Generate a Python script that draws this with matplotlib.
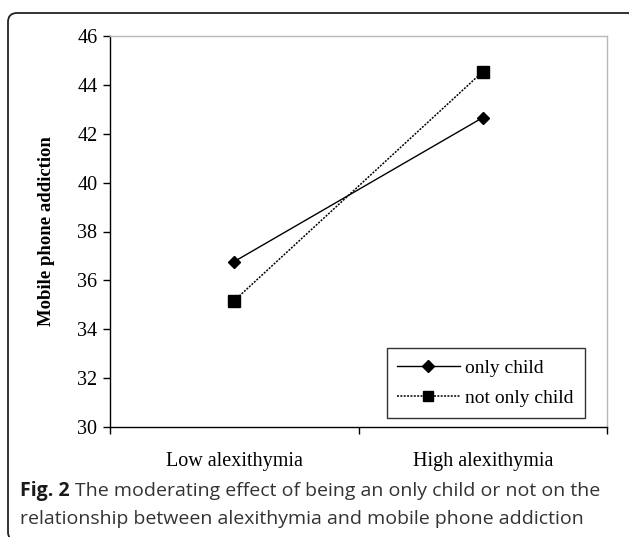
import matplotlib
matplotlib.use("Agg")
import matplotlib.pyplot as plt
from matplotlib.patches import FancyBboxPatch
from matplotlib.transforms import IdentityTransform
from matplotlib.ticker import FixedLocator, NullFormatter

categories = ["Low alexithymia", "High alexithymia"]
only_child = [36.77, 42.66]
not_only_child = [35.17, 44.54]
series_names = ["only child", "not only child"]
y_ticks = [30, 32, 34, 36, 38, 40, 42, 44, 46]

W, H, DPI = 629, 537, 100
fig = plt.figure(figsize=(W / DPI, H / DPI), dpi=DPI)
fig.patch.set_facecolor("white")

serif = "Liberation Serif"

ax = fig.add_axes([110 / W, 1 - 427 / H, (607 - 110) / W, (427 - 36) / H])
xpos = [0.5, 1.5]
ax.plot(xpos, only_child, color="black", lw=1.0, marker="D", markersize=6.5,
        label=series_names[0])
ax.plot(xpos, not_only_child, color="black", lw=1.1, ls=(0, (1.3, 0.9)), marker="s",
        markersize=8, label=series_names[1])

ax.set_xlim(0, 2)
ax.set_ylim(30, 46)
ax.set_yticks(y_ticks)
ax.set_yticklabels([str(v) for v in y_ticks], fontfamily=serif, fontsize=14.5)
ax.xaxis.set_major_locator(FixedLocator([0, 1, 2]))
ax.xaxis.set_major_formatter(NullFormatter())
ax.xaxis.set_minor_locator(FixedLocator(xpos))
ax.set_xticklabels(categories, minor=True, fontfamily=serif, fontsize=14.5)
ax.tick_params(axis="x", which="minor", length=0, pad=18)
ax.tick_params(axis="x", which="major", length=5, width=1, direction="out")
ax.tick_params(axis="y", length=5, width=1, direction="out", pad=4)

for s in ["top", "right"]:
    ax.spines[s].set_color("#b8b8b8")
    ax.spines[s].set_linewidth(1.0)
for s in ["left", "bottom"]:
    ax.spines[s].set_color("black")
    ax.spines[s].set_linewidth(1.0)

ax.set_ylabel("Mobile phone addiction", fontfamily=serif, fontweight="bold",
              fontsize=13.5, labelpad=16)

leg = ax.legend(loc="lower right", bbox_to_anchor=(0.955, 0.024),
                prop={"family": serif, "size": 14}, frameon=True, fancybox=False,
                handlelength=3.2, borderpad=0.55, labelspacing=0.65,
                handletextpad=0.3, borderaxespad=0, markerscale=0.9)
leg.get_frame().set_edgecolor("black")
leg.get_frame().set_linewidth(1.0)

# outer rounded border
border = FancyBboxPatch((8, -4), 630, H - 13 + 4, boxstyle="round,pad=0,rounding_size=9",
                        transform=IdentityTransform(), fill=False, edgecolor="#222222",
                        linewidth=1.3, clip_on=False)
fig.patches.append(border)

# caption
cap_font = "Open Sans"
cap_size = 14
t1 = fig.text(20 / W, 1 - 491 / H, "Fig. 2", fontfamily=cap_font, fontweight="bold",
              fontsize=cap_size, va="center", ha="left", color="#1a1a1a")
fig.canvas.draw()
bb = t1.get_window_extent()
fig.text((bb.x1 + 5) / W, 1 - 491 / H,
         "The moderating effect of being an only child or not on the",
         fontfamily=cap_font, fontsize=cap_size, va="center", ha="left", color="#333333")
fig.text(20 / W, 1 - 519 / H,
         "relationship between alexithymia and mobile phone addiction",
         fontfamily=cap_font, fontsize=cap_size, va="center", ha="left", color="#333333")

fig.savefig("out.png", dpi=DPI)
